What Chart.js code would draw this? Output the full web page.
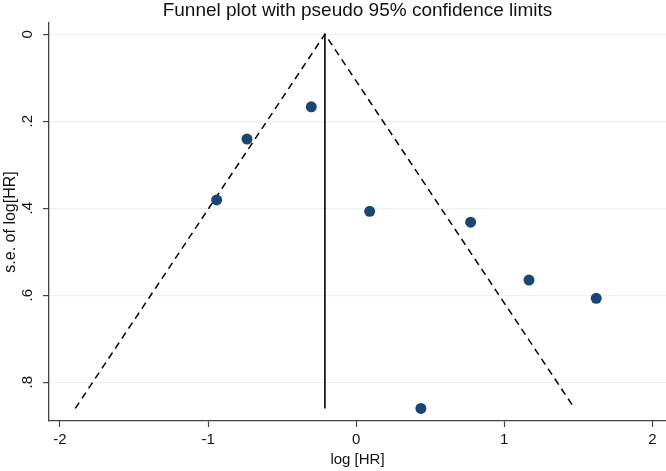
<!DOCTYPE html>
<html>
<head>
<meta charset="utf-8">
<script src="https://cdn.jsdelivr.net/npm/chart.js@4.4.1/dist/chart.umd.min.js"></script>
<style>
  html, body { margin: 0; padding: 0; background: #fff; }
</style>
</head>
<body>
<canvas id="funnelChart" width="666" height="471"></canvas>
<script>
// study estimates
const logHR = [-0.303, -0.737, -0.942, 0.091, 0.773, 1.167, 1.621, 0.437];
const seLogHR = [0.167, 0.241, 0.381, 0.407, 0.432, 0.565, 0.607, 0.860];

// pooled estimate and largest s.e. (where the funnel stops)
const pooledLogHR = -0.211;
const maxSE = 0.860;

const xTicks = [-2, -1, 0, 1, 2];
const yTicks = [0, 0.2, 0.4, 0.6, 0.8];
const yTickLabels = ["0", ".2", ".4", ".6", ".8"];

Chart.defaults.font.family = '"Liberation Sans", Arial, Helvetica, sans-serif';
Chart.defaults.color = "#111";

const studies = logHR.map((x, i) => ({ x: x, y: seLogHR[i] }));

// pseudo 95% limits: pooled +/- 1.96 * se
const funnel = [
  { x: pooledLogHR - 1.96 * maxSE, y: maxSE },
  { x: pooledLogHR, y: 0 },
  { x: pooledLogHR + 1.96 * maxSE, y: maxSE }
];
const pooledLine = [
  { x: pooledLogHR, y: 0 },
  { x: pooledLogHR, y: maxSE }
];

let config = {
  type: "scatter",
  data: {
    datasets: [
      {
        label: "Studies",
        data: studies,
        pointRadius: 5.5,
        pointBackgroundColor: "#1a476f",
        pointBorderColor: "#1a476f",
        pointBorderWidth: 0
      },
      {
        label: "Pseudo 95% CI",
        data: funnel,
        showLine: true,
        borderColor: "#000",
        borderWidth: 1.5,
        borderDash: [7, 5],
        pointRadius: 0,
        fill: false
      },
      {
        label: "Pooled",
        data: pooledLine,
        showLine: true,
        borderColor: "#000",
        borderWidth: 1.6,
        pointRadius: 0,
        fill: false
      }
    ]
  },
  options: {
    responsive: false,
    animation: false,
    // no extra room for the dots, the plot runs to the right edge
    layout: { padding: 0, autoPadding: false },
    plugins: {
      legend: { display: false },
      tooltip: { enabled: false },
      title: {
        display: true,
        fullSize: false, // centre over the plot region, like Stata
        text: "Funnel plot with pseudo 95% confidence limits",
        font: { size: 19, weight: "normal", lineHeight: 1.1 },
        color: "#111",
        padding: { top: 0, bottom: 2 }
      }
    },
    scales: {
      x: {
        type: "linear",
        min: -2.074,
        max: 2.092,
        afterBuildTicks: (axis) => {
          axis.ticks = xTicks.map((v) => ({ value: v }));
        },
        afterFit: (axis) => {
          axis.height = 50;
        },
        grid: {
          drawOnChartArea: false,
          tickLength: 6,
          tickColor: "#444",
          tickWidth: 1.2
        },
        border: { color: "#444", width: 1.3 },
        ticks: {
          font: { size: 15 },
          color: "#111",
          padding: 4,
          maxRotation: 0
        },
        title: {
          display: true,
          text: "log [HR]",
          font: { size: 15 },
          color: "#111",
          padding: { top: 0, bottom: 2.5 }
        }
      },
      y: {
        type: "linear",
        reverse: true,
        min: -0.026,
        max: 0.889,
        afterBuildTicks: (axis) => {
          axis.ticks = yTicks.map((v) => ({ value: v }));
        },
        afterFit: (axis) => {
          axis.width = 49;
        },
        grid: {
          color: "#eaf2f3",
          lineWidth: 1.2,
          tickLength: 6,
          tickColor: "#444",
          tickWidth: 1.2
        },
        border: { color: "#444", width: 1.3 },
        ticks: {
          font: { size: 15 },
          color: "#111",
          minRotation: 90,
          maxRotation: 90,
          crossAlign: "center",
          padding: 9,
          callback: (v) => yTickLabels[yTicks.indexOf(v)]
        },
        title: {
          display: true,
          text: "s.e. of log[HR]",
          font: { size: 16 },
          color: "#111",
          padding: { top: 1, bottom: 0 }
        }
      }
    }
  }
};

const chart = new Chart(document.getElementById("funnelChart"), config);
</script>
</body>
</html>
